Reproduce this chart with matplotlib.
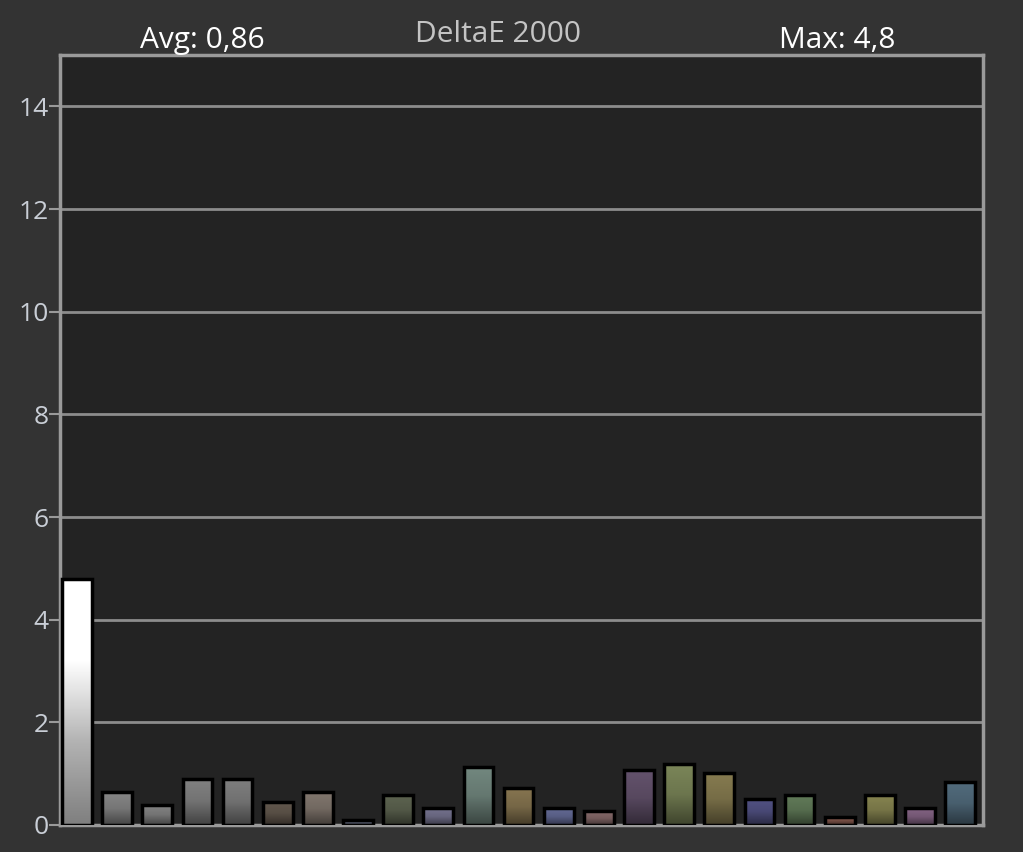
import numpy as np
import matplotlib.pyplot as plt
from matplotlib.colors import LinearSegmentedColormap, to_rgb
from matplotlib.patches import Rectangle

# DeltaE 2000 per patch
delta_e = [4.8, 0.64, 0.39, 0.90, 0.90, 0.45, 0.64, 0.10, 0.58, 0.33, 1.13, 0.72,
           0.33, 0.27, 1.07, 1.19, 1.01, 0.51, 0.58, 0.16, 0.58, 0.33, 0.84]
patch_colors = ["#ffffff", "#7c7c7c", "#7a7a7a", "#787878", "#767676", "#5c5248",
                "#786e66", "#5c6274", "#565c4a", "#6c6a84", "#6a7e76", "#7c6c4a",
                "#5c628a", "#7c6262", "#5c4c64", "#727c52", "#7c724a", "#4c4c7a",
                "#5a7252", "#7c5248", "#7c7a4a", "#7a5c7a", "#4c6474"]
y_ticks = [0, 2, 4, 6, 8, 10, 12, 14]
avg_label = "Avg: 0,86"
max_label = "Max: 4,8"
title = "DeltaE 2000"

plt.rcParams['font.family'] = ['Open Sans', 'DejaVu Sans']

fig = plt.figure(figsize=(10.23, 8.52), dpi=100)
fig.patch.set_facecolor("#333333")
ax = fig.add_axes([0.0587, 0.0317, 0.9023, 0.9037])
ax.set_facecolor("#232323")

x = np.arange(len(delta_e))
width = 0.74
grad = np.linspace(0, 1, 100).reshape(-1, 1)

# bars: vertical gradient (dark bottom -> light top) with black outline
for xi, h, c in zip(x, delta_e, patch_colors):
    top = np.array(to_rgb(c))
    if c == "#ffffff":
        bottom = np.array([0.5, 0.5, 0.5])
        cmap = LinearSegmentedColormap.from_list("g", [bottom, bottom * 0.6 + 0.4, top, top])
    else:
        bottom = top * 0.55
        cmap = LinearSegmentedColormap.from_list("g", [bottom, top * 0.95, top * 1.08 if top.max() * 1.08 <= 1 else top])
    ax.imshow(grad, extent=[xi - width / 2, xi + width / 2, 0, h], origin="lower",
              cmap=cmap, aspect="auto", zorder=3, interpolation="bilinear")
    ax.add_patch(Rectangle((xi - width / 2, 0), width, h, fill=False,
                           edgecolor="black", linewidth=2.5, zorder=4))

ax.set_xlim(-0.42, len(delta_e) - 1 + 0.57)
ax.set_ylim(0, 15)
ax.set_yticks(y_ticks)
ax.set_yticklabels([str(t) for t in y_ticks], fontsize=19, color="#c9ced6")
ax.tick_params(axis="y", length=8, width=1.5, color="#9a9a9a", pad=0)
ax.set_xticks([])
ax.yaxis.grid(True, color="#8c8c8c", linewidth=2)
ax.set_axisbelow(True)
for spine in ax.spines.values():
    spine.set_color("#9a9a9a")
    spine.set_linewidth(2.5)

fig.text(0.198, 0.952, avg_label, ha="center", va="center", fontsize=21.5, color="white")
fig.text(0.487, 0.960, title, ha="center", va="center", fontsize=21.5, color="#c4c4c4")
fig.text(0.818, 0.952, max_label, ha="center", va="center", fontsize=21.5, color="white")

fig.savefig("out.png", dpi=100, facecolor=fig.get_facecolor())
